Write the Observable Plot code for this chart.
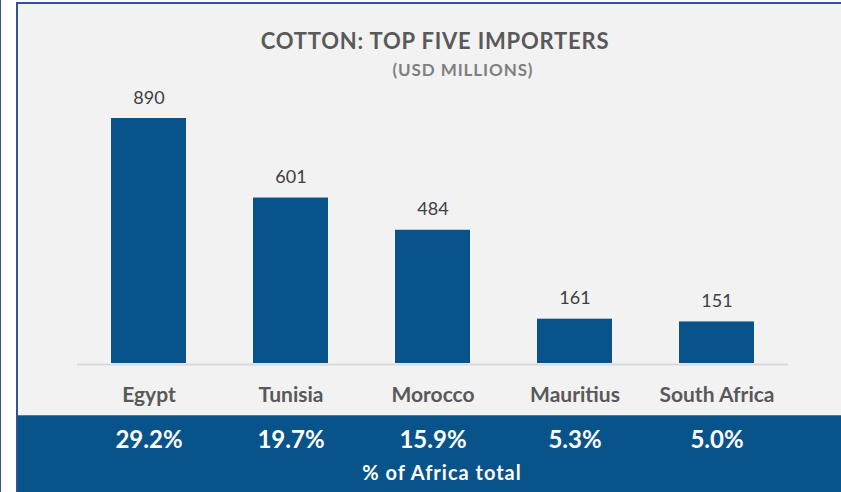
<!DOCTYPE html>
<html>
<head>
<meta charset="utf-8">
<script src="https://cdn.jsdelivr.net/npm/d3@7"></script>
<script src="https://cdn.jsdelivr.net/npm/@observablehq/plot@0.6"></script>
<style>
  html, body { margin: 0; padding: 0; background: #ffffff; }
  #wrap { position: relative; width: 841px; height: 492px; overflow: hidden; font-family: Lato, "Open Sans", sans-serif; }
  #leftline { position: absolute; left: 0; top: 0; width: 1px; height: 492px; background: #2f5597; }
  #panel { position: absolute; left: 16px; top: 2px; width: 825px; height: 490px; background: #f2f2f2; border-left: 2px solid #2f5597; border-top: 2px solid #2f5597; box-sizing: border-box; }
  #band { position: absolute; left: 18px; top: 415px; width: 823px; height: 77px; background: #08548a; border-top: 1px solid #5a70a8; box-sizing: border-box; }
  #title { position: absolute; left: 0; width: 870px; top: 28px; line-height: 26px; text-align: center; font-weight: 700; font-size: 22px; letter-spacing: 0.8px; color: #595959; }
  #subtitle { position: absolute; left: 0; width: 926px; top: 60px; line-height: 20px; text-align: center; font-weight: 700; font-size: 17px; letter-spacing: 0.9px; color: #7f7f7f; }
  #foot { position: absolute; left: 0; width: 884px; top: 460px; line-height: 24px; text-align: center; font-weight: 700; font-size: 20px; letter-spacing: 1px; color: #ffffff; }
  #chart { position: absolute; left: 0; top: 0; }
  #chart svg { background: transparent !important; }
  g[aria-label="values"] text { letter-spacing: 0.8px; }
  g[aria-label="categories"] text { letter-spacing: 0.4px; }
  g[aria-label="shares"] text { letter-spacing: 0.5px; }
</style>
</head>
<body>
<div id="wrap">
  <div id="leftline"></div>
  <div id="panel"></div>
  <div id="band"></div>
  <div id="title">COTTON: TOP FIVE IMPORTERS</div>
  <div id="subtitle">(USD MILLIONS)</div>
  <div id="chart"></div>
  <div id="foot">% of Africa total</div>
</div>
<script>
const countries = ["Egypt", "Tunisia", "Morocco", "Mauritius", "South Africa"];
const imports = [890, 601, 484, 161, 151];
const shares = ["29.2%", "19.7%", "15.9%", "5.3%", "5.0%"];

const data = countries.map((c, i) => ({country: c, value: imports[i], share: shares[i]}));

const chart = Plot.plot({
  width: 841,
  height: 492,
  marginLeft: 77,
  marginRight: 53,
  marginTop: 118,
  marginBottom: 129,
  style: {background: "transparent", overflow: "visible"},
  x: {domain: countries, paddingInner: 0.47, paddingOuter: 0.235, axis: null},
  y: {domain: [0, 890], axis: null},
  marks: [
    Plot.barY(data, {x: "country", y: "value", fill: "#08548a"}),
    Plot.ruleY([0], {stroke: "#d9d9d9", strokeWidth: 2, dy: 1}),
    Plot.text(data, {ariaLabel: "values", x: "country", y: "value", text: d => String(d.value), lineAnchor: "bottom", dy: -15, fontSize: 18, fill: "#404040", fontFamily: "Lato, sans-serif"}),
    Plot.text(data, {ariaLabel: "categories", x: "country", text: "country", frameAnchor: "bottom", lineAnchor: "middle", dy: 32, fontSize: 21, fontWeight: 700, fill: "#595959", fontFamily: "Lato, sans-serif"}),
    Plot.text(data, {ariaLabel: "shares", x: "country", text: "share", frameAnchor: "bottom", lineAnchor: "middle", dy: 77, fontSize: 24, fontWeight: 700, fill: "#ffffff", fontFamily: "Lato, sans-serif"})
  ]
});
document.getElementById("chart").appendChild(chart);
</script>
</body>
</html>
